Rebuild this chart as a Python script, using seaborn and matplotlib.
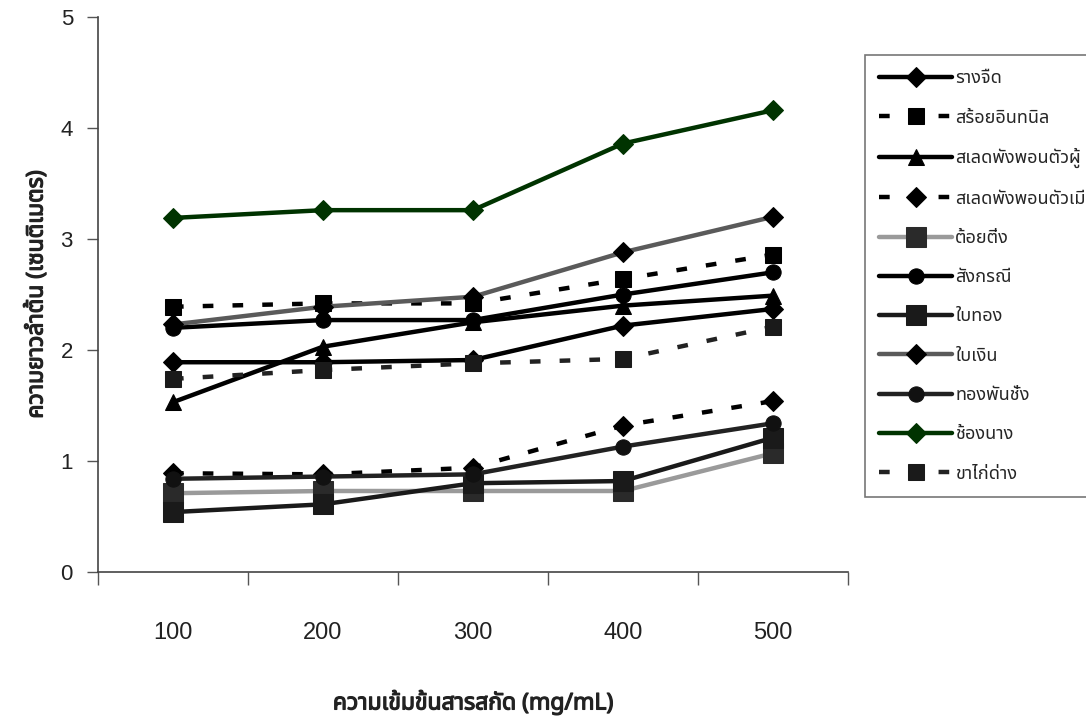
import matplotlib

matplotlib.use("Agg")
import matplotlib.patheffects as pe
import matplotlib.pyplot as plt
import numpy as np
import seaborn as sns
from matplotlib import font_manager
from matplotlib.ft2font import FT2Font

# ข้อมูลที่อ่านจากกราฟ
categories = ["100", "200", "300", "400", "500"]

rangjued = [1.89, 1.89, 1.91, 2.22, 2.37]
soi_inthanin = [2.39, 2.42, 2.42, 2.64, 2.86]
salet_male = [1.53, 2.03, 2.25, 2.40, 2.49]
salet_female = [0.89, 0.88, 0.94, 1.32, 1.54]
toi_ting = [0.71, 0.73, 0.73, 0.73, 1.07]
sangkoranee = [2.20, 2.27, 2.27, 2.50, 2.70]
bai_thong = [0.54, 0.61, 0.80, 0.82, 1.21]
bai_ngoen = [2.23, 2.39, 2.48, 2.88, 3.20]
thong_phan_chang = [0.84, 0.86, 0.88, 1.13, 1.34]
chong_nang = [3.19, 3.26, 3.26, 3.86, 4.16]
kha_kai_dang = [1.74, 1.82, 1.88, 1.92, 2.21]

series_names = [
    "รางจืด",
    "สร้อยอินทนิล",
    "สเลดพังพอนตัวผู้",
    "สเลดพังพอนตัวเมีย",
    "ต้อยติ่ง",
    "สังกรณี",
    "ใบทอง",
    "ใบเงิน",
    "ทองพันชั่ง",
    "ช้องนาง",
    "ขาไก่ด่าง",
]
series_values = [
    rangjued,
    soi_inthanin,
    salet_male,
    salet_female,
    toi_ting,
    sangkoranee,
    bai_thong,
    bai_ngoen,
    thong_phan_chang,
    chong_nang,
    kha_kai_dang,
]

# สไตล์ของแต่ละเส้น: (สีเส้น, ลักษณะเส้น, มาร์กเกอร์, ขนาด, สีมาร์กเกอร์)
DASH = (0, (2.4, 4.3))
styles = [
    ("black", "-", "D", 10, "black"),
    ("black", DASH, "s", 11, "black"),
    ("black", "-", "^", 11, "black"),
    ("black", DASH, "D", 10, "black"),
    ("#9a9a9a", "-", "s", 15, "#2a2a2a"),
    ("black", "-", "o", 11, "black"),
    ("#1a1a1a", "-", "s", 15, "#1a1a1a"),
    ("#5a5a5a", "-", "D", 10, "black"),
    ("#222222", "-", "o", 11, "#111111"),
    ("#003300", "-", "D", 10, "#003300"),
    ("#222222", DASH, "s", 11, "#1a1a1a"),
]


def find_thai_font():
    """หาฟอนต์ที่มีตัวอักษรไทย"""
    found = []
    for f in font_manager.fontManager.ttflist:
        try:
            if 0x0E01 in FT2Font(f.fname).get_charmap():
                found.append(f.name)
        except Exception:
            pass
    for pref in ["Noto Sans Thai", "Tahoma", "Loma", "Garuda", "Sarabun"]:
        if pref in found:
            return pref
    return found[0] if found else "DejaVu Sans"


sns.set_theme(style="white")
thai = find_thai_font()
plt.rcParams["font.family"] = [thai, "Liberation Sans", "DejaVu Sans"]

fig = plt.figure(figsize=(10.86, 7.18), dpi=100)
ax = fig.add_axes([0.0902, 0.2033, 0.6906, 0.773])

x = np.arange(len(categories))
for name, vals, (col, ls, mk, ms, mc) in zip(series_names, series_values, styles):
    sns.lineplot(
        x=x,
        y=vals,
        ax=ax,
        color=col,
        linestyle=ls,
        linewidth=3.2,
        marker=mk,
        markersize=ms,
        markerfacecolor=mc,
        markeredgecolor=mc,
        label=name,
    )

ax.set_xlim(-0.5, len(categories) - 0.5)
ax.set_ylim(0, 5)
ax.set_yticks(range(6))

# ขีดแกน x อยู่ระหว่างหมวดหมู่, ป้ายอยู่กลางหมวดหมู่
ax.set_xticks(np.arange(-0.5, len(categories), 1))
ax.set_xticklabels([])
ax.set_xticks(x, minor=True)
ax.set_xticklabels(categories, minor=True, fontsize=17, family=["Liberation Sans Narrow", "Liberation Sans"])
ax.tick_params(axis="x", which="major", direction="out", length=9, width=1, color="#555555", bottom=True)
ax.tick_params(axis="x", which="minor", length=0, pad=36, labelcolor="#222222")
ax.tick_params(axis="y", direction="out", length=8, width=1, color="#555555", left=True, pad=10, labelsize=16, labelcolor="#222222")
for lab in ax.get_yticklabels():
    lab.set_family(["Liberation Sans", "DejaVu Sans"])

for side in ["top", "right"]:
    ax.spines[side].set_visible(False)
for side in ["left", "bottom"]:
    ax.spines[side].set_color("#444444")
    ax.spines[side].set_linewidth(1.2)

# ฟอนต์ไทยไม่มีตัวหนา จึงใช้เส้นขอบช่วยให้ดูหนา
bold = [pe.withStroke(linewidth=0.9, foreground="#222222")]
ax.set_xlabel("ความเข้มข้นสารสกัด (mg/mL)", fontsize=16.5, fontweight="bold", color="#222222", path_effects=bold)
ax.set_ylabel("ความยาวลำต้น (เซนติเมตร)", fontsize=16.5, fontweight="bold", color="#222222", path_effects=bold)
ax.xaxis.set_label_coords(0.5, -0.212)
ax.yaxis.set_label_coords(-0.066, 0.5)

leg = ax.legend(
    loc="upper left",
    bbox_to_anchor=(865 / 1086, 1 - 55 / 718),
    bbox_transform=fig.transFigure,
    fontsize=13,
    handlelength=4.0,
    handletextpad=0.2,
    labelspacing=1.18,
    borderpad=0.8,
    borderaxespad=0,
    fancybox=False,
    frameon=True,
)
leg.get_frame().set_edgecolor("#555555")
leg.get_frame().set_linewidth(1.2)

fig.savefig("out.png", dpi=100)
